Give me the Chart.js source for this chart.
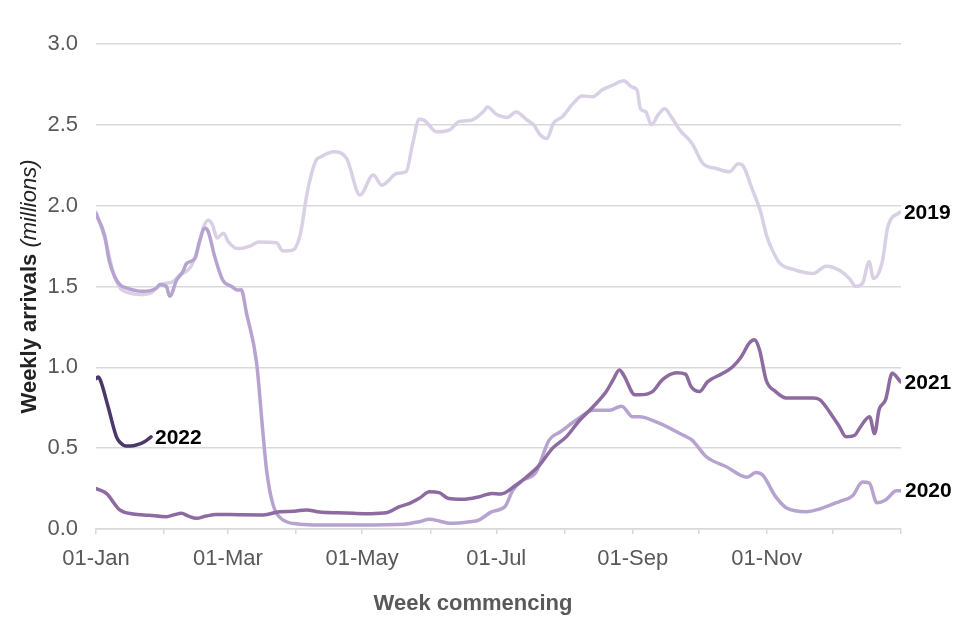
<!DOCTYPE html>
<html>
<head>
<meta charset="utf-8">
<script src="https://cdn.jsdelivr.net/npm/chart.js@4"></script>
<style>
  html, body { margin: 0; padding: 0; background: #ffffff; }
  #wrap { width: 960px; height: 640px; }
</style>
</head>
<body>
<div id="wrap"><canvas id="c" width="960" height="640"></canvas></div>
<script>
// ---- Data (day of year, weekly arrivals in millions) ----
const monthTickDays = [0, 31, 60, 91, 121, 152, 182, 213, 244, 274, 305, 335, 366];
const monthTickLabels = ['01-Jan', '', '01-Mar', '', '01-May', '', '01-Jul', '', '01-Sep', '', '01-Nov', '', ''];
const yTickValues = [0, 0.5, 1.0, 1.5, 2.0, 2.5, 3.0];

const seriesNames = ['2019', '2020', '2021', '2022'];

const days2019 = [0,4,8,11,15,20,25,29,35,38,43,46,49,51,53,55,58,60,63,65,70,74,82,85,89.5,93,96,100,102,108,114,120,126,130,137,141,144,147,149,155,161,165,171,176,178,182,187,191,196,199,202,205,208,212,217,221,226,230,235,240,243.5,246,247.5,250,252.5,255.5,258.5,262,265.5,271,276,282,288,292,294,298.5,302,305,307.5,311,317,326,332,338,342.5,345.5,348.5,351.5,353.5,357.5,360,365.5];
const values2019 = [1.96,1.80,1.58,1.49,1.46,1.45,1.46,1.51,1.53,1.57,1.62,1.72,1.87,1.91,1.88,1.80,1.83,1.78,1.74,1.735,1.75,1.775,1.77,1.72,1.725,1.83,2.08,2.28,2.30,2.333,2.29,2.066,2.19,2.127,2.20,2.21,2.385,2.535,2.53,2.457,2.47,2.52,2.53,2.58,2.61,2.566,2.546,2.58,2.53,2.50,2.437,2.416,2.51,2.55,2.633,2.678,2.674,2.715,2.746,2.772,2.735,2.715,2.60,2.58,2.50,2.56,2.60,2.54,2.467,2.385,2.26,2.23,2.21,2.26,2.25,2.096,1.97,1.81,1.725,1.643,1.606,1.58,1.626,1.60,1.55,1.50,1.52,1.653,1.55,1.653,1.87,1.96];

const days2020 = [0,4,6,8.5,11,14,21,27.5,29,32,33.5,36.7,39.4,41.2,45,47,49.5,51,54,57.6,61.7,64.4,66,68.5,73,75.8,77.6,80.3,85,92.6,101.7,120,140,147,151.6,156,161,170,174,180,186,189.5,194,200,206,211,220,226,233.5,239,244,247,256,267,271,277.5,286.6,296,300,303,309,314,323,329,338,344,348.5,351.6,355,359,364,366];
const values2020 = [1.95,1.81,1.66,1.56,1.51,1.49,1.47,1.49,1.513,1.50,1.44,1.54,1.59,1.643,1.674,1.777,1.86,1.84,1.684,1.54,1.50,1.478,1.48,1.33,1.03,0.61,0.36,0.16,0.056,0.03,0.025,0.025,0.03,0.045,0.06,0.05,0.035,0.045,0.055,0.107,0.14,0.24,0.30,0.35,0.55,0.60,0.69,0.735,0.735,0.76,0.695,0.695,0.655,0.58,0.55,0.447,0.385,0.32,0.35,0.335,0.20,0.13,0.107,0.124,0.17,0.206,0.29,0.284,0.163,0.18,0.237,0.237];

const days2021 = [0,4.7,10.8,16.8,24,32,36,38.8,42,45.6,50,54.7,65,76,83.5,90,95.6,101.7,110,117,125,132,138,142.6,147,151.7,156,160,166.7,174.4,180,184,191,195.6,201.7,207.6,213.8,220,226,232,235,238,240,245,247,253,257.7,264,268,270.6,274.4,278,285,289.5,293.4,297,299.4,301.7,304.7,309,313.8,326,329,335,338,341,345,347,351.7,354,356,359,362,365.8];
const values2021 = [0.25,0.22,0.118,0.093,0.085,0.076,0.09,0.097,0.08,0.066,0.08,0.09,0.088,0.087,0.107,0.11,0.118,0.105,0.10,0.097,0.095,0.10,0.138,0.159,0.19,0.23,0.225,0.19,0.184,0.20,0.22,0.216,0.272,0.32,0.396,0.50,0.57,0.674,0.756,0.85,0.92,0.983,0.95,0.83,0.83,0.85,0.926,0.967,0.958,0.88,0.85,0.91,0.963,1.004,1.066,1.15,1.17,1.107,0.92,0.85,0.81,0.81,0.80,0.695,0.633,0.571,0.58,0.62,0.695,0.59,0.736,0.80,0.963,0.91];

const days2022 = [0,1,2,5.5,9.3,11,13.8,17,19.9,22,25];
const values2022 = [0.93,0.94,0.92,0.756,0.57,0.535,0.513,0.515,0.526,0.54,0.57];

const seriesColors = ['#d9d0e6', '#b6a3d0', '#8d6a9f', '#4b3869'];

// ---- Build datasets ----
function toPoints(days, vals) { return days.map((d, i) => ({ x: d, y: vals[i] })); }
const allDays = [days2019, days2020, days2021, days2022];
const allVals = [values2019, values2020, values2021, values2022];

const datasets = seriesNames.map((name, i) => ({
  label: name,
  data: toPoints(allDays[i], allVals[i]),
  borderColor: seriesColors[i],
  backgroundColor: seriesColors[i],
  borderWidth: 3.5,
  pointRadius: 0,
  cubicInterpolationMode: 'monotone',
  borderCapStyle: 'round',
  borderJoinStyle: 'round',
  fill: false,
  order: seriesNames.length - i
}));

const FONT = '"Liberation Sans", Arial, Helvetica, sans-serif';

const annotatePlugin = {
  id: 'annotate',
  afterDatasetsDraw(chart) {
    const ctx = chart.ctx;
    ctx.save();
    ctx.font = 'bold 21px ' + FONT;
    ctx.fillStyle = '#000000';
    ctx.textBaseline = 'middle';
    ctx.textAlign = 'left';
    chart.data.datasets.forEach((ds, i) => {
      const meta = chart.getDatasetMeta(i);
      const pt = meta.data[meta.data.length - 1];
      if (pt) ctx.fillText(ds.label, pt.x + 4, pt.y + 1);
    });
    ctx.restore();
  },
  afterDraw(chart) {
    const ctx = chart.ctx;
    const area = chart.chartArea;
    // Y axis title: bold + italic parts
    ctx.save();
    ctx.translate(30, (area.top + area.bottom) / 2);
    ctx.rotate(-Math.PI / 2);
    ctx.textBaseline = 'middle';
    ctx.textAlign = 'left';
    const partA = 'Weekly arrivals ';
    const partB = '(millions)';
    ctx.font = 'bold 22px ' + FONT;
    const wA = ctx.measureText(partA).width;
    ctx.font = 'italic 22px ' + FONT;
    const wB = ctx.measureText(partB).width;
    const start = -(wA + wB) / 2;
    ctx.fillStyle = '#222222';
    ctx.font = 'bold 22px ' + FONT;
    ctx.fillText(partA, start, 0);
    ctx.font = 'italic 22px ' + FONT;
    ctx.fillText(partB, start + wA, 0);
    ctx.restore();
    // X axis title
    ctx.save();
    ctx.font = 'bold 22px ' + FONT;
    ctx.fillStyle = '#595959';
    ctx.textAlign = 'center';
    ctx.textBaseline = 'middle';
    ctx.fillText('Week commencing', 473, 604);
    ctx.restore();
  }
};

new Chart(document.getElementById('c'), {
  type: 'line',
  data: { datasets },
  options: {
    responsive: false,
    animation: false,
    devicePixelRatio: 1,
    layout: { padding: { left: 0, right: 59, top: 44, bottom: 0 } },
    plugins: { legend: { display: false }, tooltip: { enabled: false } },
    scales: {
      x: {
        type: 'linear',
        min: 0,
        max: 366,
        afterBuildTicks: (scale) => { scale.ticks = monthTickDays.map(v => ({ value: v })); },
        afterFit: (scale) => { scale.height = 111; },
        grid: { drawOnChartArea: false, drawTicks: true, tickLength: 5, color: '#d9d9d9', lineWidth: 1.5 },
        border: { display: true, color: '#d9d9d9', width: 1.5 },
        ticks: {
          autoSkip: false,
          maxRotation: 0,
          padding: 12,
          color: '#595959',
          font: { family: FONT, size: 22 },
          callback: (value) => { const k = monthTickDays.indexOf(value); return k >= 0 ? monthTickLabels[k] : ''; }
        }
      },
      y: {
        min: 0,
        max: 3,
        afterBuildTicks: (scale) => { scale.ticks = yTickValues.map(v => ({ value: v })); },
        afterFit: (scale) => { scale.width = 96; },
        grid: { drawTicks: false, color: '#d9d9d9', lineWidth: 1.5 },
        border: { display: false },
        ticks: {
          padding: 18,
          color: '#595959',
          font: { family: FONT, size: 22 },
          callback: (value) => Number(value).toFixed(1)
        }
      }
    }
  },
  plugins: [annotatePlugin]
});
</script>
</body>
</html>
